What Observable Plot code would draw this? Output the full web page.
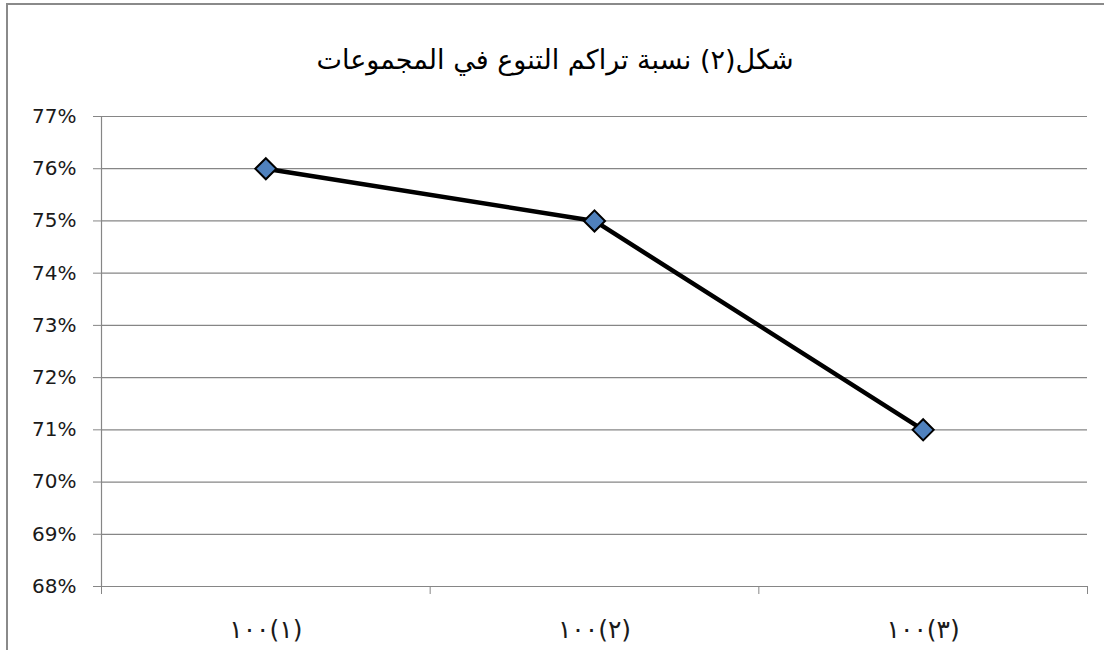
<!DOCTYPE html>
<html>
<head>
<meta charset="utf-8">
<script src="https://cdn.jsdelivr.net/npm/d3@7"></script>
<script src="https://cdn.jsdelivr.net/npm/@observablehq/plot@0.6"></script>
<style>
  body { margin: 0; background: #fff; }
  #wrap { position: relative; width: 1104px; height: 650px; overflow: hidden; }
  #border { position: absolute; left: 6px; top: 3px; width: 1200px; height: 800px;
            border-top: 2px solid #8a8a8a; border-left: 2px solid #8a8a8a; }
  #title { position: absolute; top: 44px; left: 0; width: 1110px; text-align: center;
           font-family: "DejaVu Sans", sans-serif; font-size: 27px; color: #000; direction: rtl; }
  #chart { position: absolute; left: 0; top: 0; }
</style>
</head>
<body>
<div id="wrap">
  <div id="border"></div>
  <div id="chart"></div>
  <div id="title">شكل(٢) نسبة تراكم التنوع في المجموعات</div>
</div>
<script>
const categories = ["١٠٠(١)", "١٠٠(٢)", "١٠٠(٣)"];
const values = [0.76, 0.75, 0.71];
const yTicks = [0.68, 0.69, 0.70, 0.71, 0.72, 0.73, 0.74, 0.75, 0.76, 0.77];

const data = categories.map((c, i) => ({cat: c, idx: i + 0.5, value: values[i]}));
const boundaries = d3.range(categories.length + 1);
const centers = categories.map((c, i) => i + 0.5);

const plot = Plot.plot({
  width: 1104,
  height: 650,
  marginTop: 116,
  marginBottom: 64,
  marginLeft: 101,
  marginRight: 17,
  style: {fontFamily: "DejaVu Sans, sans-serif", fontSize: "20px", color: "#1a1a1a", background: "transparent"},
  x: {type: "linear", domain: [0, categories.length]},
  y: {domain: [0.68, 0.77]},
  marks: [
    Plot.gridY(yTicks, {stroke: "#868686", strokeOpacity: 1, strokeWidth: 1.2}),
    Plot.ruleX([0], {stroke: "#868686", strokeWidth: 1.2}),
    Plot.axisY({ticks: yTicks, tickSize: 8, tickPadding: 17, stroke: "#868686", strokeOpacity: 1,
                tickFormat: d => Math.round(d * 100) + "%", label: null}),
    Plot.axisX({ticks: boundaries, tickSize: 8, stroke: "#868686", strokeOpacity: 1,
                tickFormat: () => "", label: null}),
    Plot.axisX({ticks: centers, tickSize: 0, tickPadding: 34, fontSize: 25,
                tickFormat: d => categories[Math.round(d - 0.5)], label: null}),
    Plot.line(data, {x: "idx", y: "value", stroke: "#000", strokeWidth: 4.5}),
    Plot.dot(data, {x: "idx", y: "value", symbol: "diamond2", r: 9.5, fill: "#4f81bd", stroke: "#000", strokeWidth: 2})
  ]
});
document.getElementById("chart").appendChild(plot);
d3.select(plot).selectAll("g[aria-label='x-axis tick label'] text")
  .style("unicode-bidi", "bidi-override").style("direction", "ltr");
</script>
</body>
</html>
